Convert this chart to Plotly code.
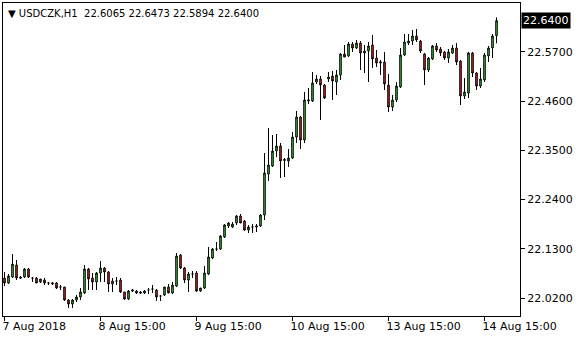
import plotly.graph_objects as go

symbol = "USDCZK"
timeframe = "H1"

bar_index = list(range(124))

opens = [22.0647,22.0535,22.0669,22.0938,22.0669,22.0669,22.0848,22.0647,22.0647,22.0558,
         22.0602,22.0535,22.0513,22.0535,22.0446,22.0446,22.0155,22.0066,22.0155,22.0222,
         22.0312,22.0848,22.0647,22.0558,22.0759,22.0871,22.0781,22.0513,22.0580,22.0602,
         22.0334,22.0178,22.0356,22.0356,22.0334,22.0312,22.0379,22.0401,22.0379,22.0245,
         22.0267,22.0446,22.0312,22.0468,22.1161,22.0871,22.0602,22.0737,22.0759,22.0356,
         22.0424,22.0737,22.1094,22.1295,22.1295,22.1564,22.1810,22.1787,22.1877,22.2033,
         22.1921,22.1720,22.1787,22.1787,22.1810,22.2055,22.2972,22.3151,22.3486,22.3598,
         22.3274,22.3263,22.3330,22.3799,22.4246,22.3732,22.4604,22.4604,22.5029,22.5096,
         22.4962,22.5096,22.5163,22.5029,22.5185,22.5655,22.5610,22.5878,22.5789,22.5901,
         22.5677,22.5722,22.5856,22.5565,22.5454,22.5476,22.4962,22.4470,22.4626,22.4917,
         22.5632,22.5901,22.5945,22.6057,22.5945,22.5655,22.5297,22.5543,22.5834,22.5766,
         22.5700,22.5565,22.5677,22.5789,22.5498,22.4716,22.4783,22.5677,22.5230,22.4939,
         22.5074,22.5610,22.5789,22.6065]

highs = [22.0781,22.0737,22.1184,22.1050,22.0692,22.0871,22.0871,22.0669,22.0669,22.0625,
         22.0647,22.0558,22.0558,22.0558,22.0491,22.0446,22.0178,22.0178,22.0267,22.0424,
         22.0938,22.0871,22.0759,22.0781,22.1027,22.0893,22.0804,22.0647,22.0669,22.0647,
         22.0334,22.0379,22.0401,22.0379,22.0356,22.0379,22.0424,22.0491,22.0401,22.0267,
         22.0446,22.0513,22.0558,22.1206,22.1184,22.0893,22.0781,22.0804,22.0804,22.0424,
         22.0915,22.1340,22.1318,22.1452,22.1608,22.1854,22.1899,22.1899,22.2055,22.2078,
         22.1944,22.1832,22.1854,22.1854,22.2078,22.3442,22.4001,22.3844,22.3866,22.3665,
         22.3330,22.3531,22.3911,22.4380,22.4269,22.4805,22.4895,22.5252,22.5185,22.5163,
         22.4984,22.5252,22.5275,22.5297,22.5677,22.5856,22.5923,22.5923,22.5968,22.5945,
         22.5856,22.5923,22.6080,22.5744,22.5521,22.5700,22.5208,22.4738,22.5029,22.5789,
         22.6102,22.6102,22.6191,22.6214,22.5968,22.5677,22.5588,22.5856,22.5901,22.5811,
         22.5722,22.5766,22.5856,22.5901,22.5521,22.5118,22.5700,22.5700,22.5252,22.5342,
         22.5677,22.5834,22.6102,22.6473]

lows = [22.0468,22.0513,22.0647,22.0602,22.0625,22.0647,22.0647,22.0558,22.0535,22.0535,
        22.0491,22.0491,22.0491,22.0401,22.0379,22.0133,21.9976,21.9976,22.0111,22.0155,
        22.0289,22.0379,22.0379,22.0379,22.0558,22.0558,22.0334,22.0334,22.0491,22.0312,
        22.0155,22.0155,22.0334,22.0289,22.0289,22.0289,22.0289,22.0312,22.0133,22.0133,
        22.0245,22.0312,22.0289,22.0446,22.0848,22.0535,22.0334,22.0647,22.0334,22.0334,
        22.0401,22.0714,22.1072,22.1251,22.1273,22.1541,22.1765,22.1765,22.1832,22.1877,
        22.1698,22.1653,22.1653,22.1675,22.1787,22.1944,22.2816,22.3129,22.3352,22.2883,
        22.2905,22.3129,22.3307,22.3665,22.3531,22.3665,22.4537,22.4582,22.4984,22.4179,
        22.4649,22.5029,22.4626,22.4738,22.5074,22.5588,22.5588,22.5700,22.5766,22.5297,
        22.5230,22.5029,22.5342,22.5364,22.5185,22.4850,22.4358,22.4380,22.4582,22.4895,
        22.5610,22.5856,22.5856,22.5923,22.5677,22.4962,22.5252,22.5521,22.5700,22.5610,
        22.5521,22.5454,22.5655,22.5409,22.4515,22.4649,22.4671,22.5141,22.4850,22.4895,
        22.5029,22.5476,22.5565,22.5894]

closes = [22.0535,22.0692,22.0960,22.0647,22.0647,22.0848,22.0669,22.0647,22.0535,22.0625,
          22.0535,22.0535,22.0535,22.0424,22.0446,22.0155,22.0066,22.0155,22.0222,22.0334,
          22.0848,22.0625,22.0558,22.0759,22.0871,22.0781,22.0513,22.0580,22.0580,22.0334,
          22.0178,22.0356,22.0379,22.0312,22.0312,22.0356,22.0379,22.0401,22.0222,22.0245,
          22.0446,22.0312,22.0491,22.1139,22.0871,22.0602,22.0737,22.0737,22.0356,22.0424,
          22.0759,22.1117,22.1295,22.1295,22.1586,22.1832,22.1877,22.1854,22.2033,22.1877,
          22.1720,22.1787,22.1787,22.1810,22.2055,22.2995,22.3173,22.3486,22.3598,22.3263,
          22.3296,22.3330,22.3799,22.4246,22.3732,22.4626,22.4626,22.5007,22.5096,22.4962,
          22.4671,22.5141,22.5051,22.5185,22.5655,22.5588,22.5878,22.5789,22.5901,22.5677,
          22.5722,22.5834,22.5543,22.5454,22.5476,22.4984,22.4470,22.4626,22.4939,22.5632,
          22.5923,22.5945,22.6057,22.5968,22.5722,22.5297,22.5565,22.5834,22.5744,22.5677,
          22.5565,22.5700,22.5789,22.5476,22.4716,22.4805,22.5677,22.5230,22.4939,22.5096,
          22.5632,22.5789,22.6057,22.6400]

x_tick_index = [0, 24, 48, 72, 96, 120]
x_tick_labels = ["7 Aug 2018", "8 Aug 15:00", "9 Aug 15:00", "10 Aug 15:00",
                 "13 Aug 15:00", "14 Aug 15:00"]
y_tick_values = [22.02, 22.13, 22.24, 22.35, 22.46, 22.57]

FONT = "DejaVu Sans"
GREEN = "#3ce63c"
RED = "#ff2828"

fig = go.Figure(go.Candlestick(
    x=bar_index, open=opens, high=highs, low=lows, close=closes,
    increasing=dict(fillcolor=GREEN, line=dict(color="black", width=1)),
    decreasing=dict(fillcolor=RED, line=dict(color="black", width=1)),
    whiskerwidth=0, hoverinfo="skip", showlegend=False,
))

last_o, last_h, last_l, last_c = opens[-1], highs[-1], lows[-1], closes[-1]
header = ("\u25bc " + f"{symbol},{timeframe}" + "\u00a0\u00a0"
          + f"{last_o:.4f} {last_h:.4f} {last_l:.4f} {last_c:.4f}")

fig.update_layout(
    width=580, height=340,
    margin=dict(l=3, r=60, t=3, b=24),
    paper_bgcolor="white", plot_bgcolor="white",
    boxgap=0.45,
    font=dict(family=FONT, size=11, color="black"),
    xaxis=dict(
        range=[-0.375, 128.875], showgrid=False, zeroline=False,
        rangeslider=dict(visible=False),
        tickmode="array", tickvals=x_tick_index, ticktext=x_tick_labels,
        ticks="outside", ticklen=4, tickcolor="black", tickwidth=1,
        ticklabelposition="outside right", ticklabelshift=-3,
        showline=True, linecolor="black", linewidth=1, mirror=True,
        tickfont=dict(family=FONT, size=11, color="black"),
    ),
    yaxis=dict(
        range=[21.9798, 22.6795], side="right", showgrid=False, zeroline=False,
        tickmode="array", tickvals=y_tick_values, tickformat=".4f",
        ticks="outside", ticklen=4, tickcolor="black", tickwidth=1,
        showline=True, linecolor="black", linewidth=1, mirror=True,
        tickfont=dict(family=FONT, size=11, color="black"),
    ),
    annotations=[
        dict(xref="paper", yref="paper", x=0, y=1, xanchor="left", yanchor="top",
             xshift=3, yshift=-3, text=header, showarrow=False,
             font=dict(family=FONT, size=10, color="black")),
        dict(xref="paper", yref="y", x=1, y=last_c, xanchor="left", yanchor="middle",
             xshift=1, text=f"{last_c:.4f}", showarrow=False, bgcolor="black",
             borderpad=1, font=dict(family=FONT, size=11, color="white")),
    ],
)

fig.write_html("out.html")
